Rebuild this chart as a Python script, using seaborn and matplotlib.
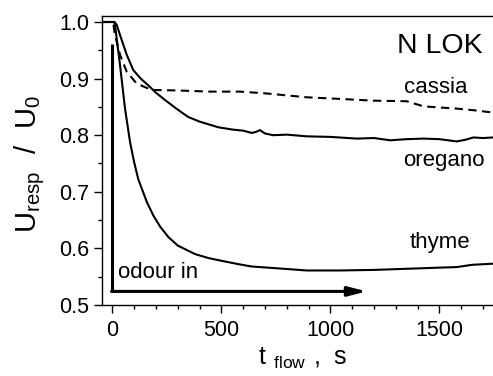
import pandas as pd
import matplotlib
matplotlib.use("Agg")
import matplotlib.pyplot as plt
from matplotlib.ticker import MultipleLocator
import seaborn as sns

# values
thyme_t = [-50, 0, 8, 12, 20, 35, 58, 81, 100, 119, 158, 188, 220, 257, 300, 379, 440,
           502, 580, 639, 750, 891, 1044, 1200, 1350, 1500, 1580, 1650, 1746]
thyme_v = [1.0, 1.0, 1.0, 0.995, 0.97, 0.924, 0.847, 0.788, 0.752, 0.722, 0.682, 0.658,
           0.638, 0.620, 0.605, 0.590, 0.583, 0.578, 0.572, 0.568, 0.565, 0.561, 0.561,
           0.562, 0.564, 0.566, 0.567, 0.571, 0.573]

oregano_t = [-50, 0, 10, 20, 35, 66, 96, 130, 165, 200, 242, 290, 326, 349, 400, 486,
             550, 600, 639, 660, 677, 700, 738, 800, 891, 1000, 1121, 1200, 1274, 1350,
             1427, 1500, 1580, 1620, 1656, 1700, 1746]
oregano_v = [1.0, 1.0, 1.0, 0.995, 0.977, 0.942, 0.915, 0.900, 0.888, 0.875, 0.862, 0.848,
             0.838, 0.832, 0.824, 0.814, 0.810, 0.808, 0.804, 0.806, 0.809, 0.803, 0.800,
             0.801, 0.798, 0.797, 0.794, 0.795, 0.791, 0.793, 0.794, 0.793, 0.789, 0.792,
             0.796, 0.795, 0.796]

cassia_t = [-50, 0, 5, 12, 35, 66, 112, 180, 300, 450, 586, 700, 891, 1050, 1197, 1350,
            1427, 1500, 1580, 1660, 1746]
cassia_v = [1.0, 1.0, 0.995, 0.977, 0.942, 0.912, 0.891, 0.880, 0.879, 0.877, 0.877, 0.874,
            0.867, 0.864, 0.861, 0.860, 0.851, 0.849, 0.847, 0.844, 0.840]

x_ticks = [0, 500, 1000, 1500]
y_ticks = [0.5, 0.6, 0.7, 0.8, 0.9, 1.0]

sns.set_style("ticks")
plt.rcParams['font.family'] = ['Liberation Sans', 'DejaVu Sans']
plt.rcParams['mathtext.fontset'] = 'custom'
plt.rcParams['mathtext.rm'] = 'Liberation Sans'
for key in ['text.color', 'axes.labelcolor', 'xtick.color', 'ytick.color', 'axes.edgecolor']:
    plt.rcParams[key] = 'black'

fig = plt.figure(figsize=(4.93, 3.76), dpi=100)
ax = fig.add_axes([101.7 / 493, 71 / 376, 1 - 101.7 / 493, 289 / 376])

df_thyme = pd.DataFrame({'t': thyme_t, 'v': thyme_v})
df_oregano = pd.DataFrame({'t': oregano_t, 'v': oregano_v})
df_cassia = pd.DataFrame({'t': cassia_t, 'v': cassia_v})

sns.lineplot(data=df_thyme, x='t', y='v', color='black', lw=1.5, ax=ax)
sns.lineplot(data=df_oregano, x='t', y='v', color='black', lw=1.5, ax=ax)
sns.lineplot(data=df_cassia, x='t', y='v', color='black', lw=1.5, ax=ax,
             linestyle=(0, (4, 2.6)))

# odour in arrow
ax.plot([0, 0], [0.524, 0.962], color='black', lw=2.2, solid_capstyle='butt')
ax.annotate('', xy=(1167, 0.524), xytext=(-4, 0.524),
            arrowprops=dict(arrowstyle='-|>,head_length=0.55,head_width=0.14',
                            mutation_scale=20, lw=2.2, color='black',
                            shrinkA=0, shrinkB=0))
ax.text(26, 0.547, 'odour in', fontsize=16, va='baseline', ha='left')

ax.text(1700, 0.945, 'N LOK', fontsize=20.5, va='baseline', ha='right')
ax.text(1338, 0.875, 'cassia', fontsize=16, va='baseline', ha='left')
ax.text(1333, 0.746, 'oregano', fontsize=16, va='baseline', ha='left')
ax.text(1365, 0.600, 'thyme', fontsize=16, va='baseline', ha='left')

ax.set_xlim(-49, 1746)
ax.set_ylim(0.5, 1.0106)
ax.set_xticks(x_ticks)
ax.set_yticks(y_ticks)
ax.set_yticklabels([f'{v:.1f}' for v in y_ticks])
ax.xaxis.set_minor_locator(MultipleLocator(100))
ax.yaxis.set_minor_locator(MultipleLocator(0.05))
ax.tick_params(which='major', direction='out', length=6, width=1, labelsize=15.5, pad=3)
ax.tick_params(which='minor', direction='out', length=3, width=1)
ax.tick_params(axis='x', which='major', pad=5)
ax.set_xlabel('')
ax.set_ylabel('')
for s in ['left', 'top', 'bottom']:
    ax.spines[s].set_linewidth(1.0)
    ax.spines[s].set_color('black')
ax.spines['right'].set_visible(False)

fig.text(30 / 493, (376 - 164) / 376, r'$\mathregular{U_{resp}\;\ /\ \;U_0}$',
         fontsize=21, rotation=90, ha='center', va='center')
fig.text(302 / 493, 11 / 376, r'$\mathregular{t\ {}_{flow}\ ,\ s}$',
         fontsize=18, ha='center', va='baseline')

fig.savefig('out.png', dpi=100, facecolor='white')
